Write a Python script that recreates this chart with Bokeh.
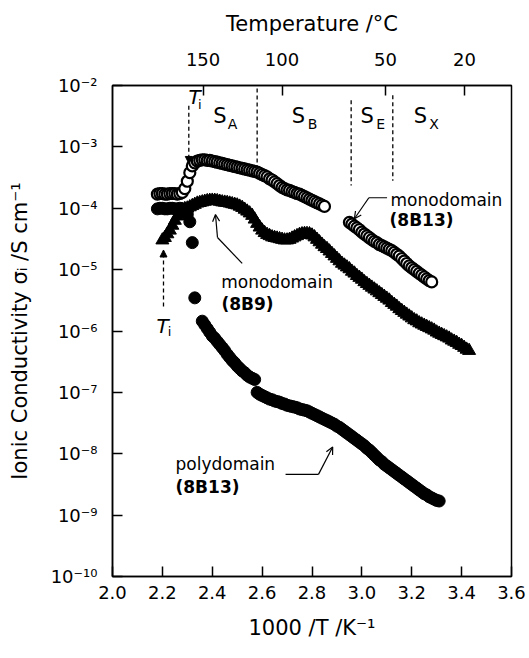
import numpy as np
from bokeh.plotting import figure
from bokeh.models import (LinearAxis, FixedTicker, CustomJSTickFormatter, Range1d,
                          Arrow, NormalHead, OpenHead)
from bokeh.core.properties import value
from bokeh.embed import file_html
from bokeh.resources import INLINE

FONT = "DejaVu Sans"

# ---------------- data (log10 of sigma / S cm^-1) ----------------
# monodomain 8B13 (open circles), part 1
mono13a_x = [2.18, 2.19, 2.20, 2.21, 2.22, 2.23, 2.24, 2.25, 2.26, 2.27, 2.28, 2.29, 2.30, 2.31, 2.32,
             2.33, 2.34, 2.35, 2.36, 2.37, 2.38, 2.39, 2.40, 2.41, 2.42, 2.43, 2.44, 2.45, 2.46, 2.47,
             2.48, 2.49, 2.50, 2.51, 2.52, 2.53, 2.54, 2.55, 2.56, 2.57, 2.58, 2.59, 2.60, 2.61, 2.62,
             2.63, 2.64, 2.65, 2.66, 2.67, 2.68, 2.69, 2.70, 2.71, 2.72, 2.73, 2.74, 2.75, 2.76, 2.77,
             2.78, 2.79, 2.80, 2.81, 2.82, 2.83, 2.84, 2.85]
mono13a_log = [-3.77, -3.76, -3.76, -3.77, -3.77, -3.76, -3.76, -3.76, -3.77, -3.76, -3.74, -3.68, -3.56,
               -3.42, -3.31, -3.26, -3.23, -3.22, -3.21, -3.21, -3.22, -3.22, -3.23, -3.24, -3.25, -3.26,
               -3.27, -3.28, -3.29, -3.30, -3.31, -3.32, -3.33, -3.34, -3.35, -3.36, -3.37, -3.38, -3.39,
               -3.40, -3.41, -3.43, -3.45, -3.47, -3.49, -3.52, -3.54, -3.57, -3.60, -3.63, -3.66, -3.68,
               -3.70, -3.71, -3.73, -3.74, -3.76, -3.77, -3.79, -3.81, -3.83, -3.85, -3.87, -3.89, -3.91,
               -3.93, -3.95, -3.97]
# monodomain 8B13 (open circles), part 2
mono13b_x = [2.95, 2.96, 2.97, 2.98, 2.99, 3.00, 3.01, 3.02, 3.03, 3.04, 3.05, 3.06, 3.07, 3.08, 3.09,
             3.10, 3.11, 3.12, 3.13, 3.14, 3.15, 3.16, 3.17, 3.18, 3.19, 3.20, 3.21, 3.22, 3.23, 3.24,
             3.25, 3.26, 3.27, 3.28]
mono13b_log = [-4.23, -4.26, -4.29, -4.32, -4.35, -4.39, -4.42, -4.45, -4.48, -4.51, -4.54, -4.56, -4.59,
               -4.61, -4.63, -4.65, -4.67, -4.69, -4.72, -4.75, -4.78, -4.82, -4.86, -4.90, -4.94, -4.97,
               -5.00, -5.03, -5.06, -5.09, -5.12, -5.15, -5.18, -5.20]

# monodomain 8B9 (triangles), x = 2.20 ... 3.43 in steps of 0.01
mono9_x = [round(2.20 + 0.01 * i, 2) for i in range(124)]
mono9_log = [-4.52, -4.48, -4.42, -4.36, -4.28, -4.20, -4.13, -4.07, -4.03, -4.01,
             -4.00, -3.98, -3.96, -3.94, -3.92, -3.91, -3.90, -3.89, -3.88, -3.875,
             -3.873, -3.875, -3.88, -3.89, -3.90, -3.905, -3.91, -3.92, -3.93, -3.94,
             -3.95, -3.97, -3.99, -4.02, -4.05, -4.08, -4.12, -4.18, -4.25, -4.31,
             -4.36, -4.40, -4.43, -4.45, -4.47, -4.48, -4.49, -4.50, -4.51, -4.52,
             -4.52, -4.51, -4.49, -4.47, -4.45, -4.43, -4.42, -4.415, -4.415, -4.42,
             -4.44, -4.47, -4.51, -4.55, -4.59, -4.63, -4.66, -4.70, -4.74, -4.78,
             -4.82, -4.86, -4.90, -4.93, -4.96, -4.99, -5.03, -5.06, -5.10, -5.13,
             -5.16, -5.20, -5.23, -5.26, -5.29, -5.32, -5.35, -5.38, -5.41, -5.44,
             -5.47, -5.50, -5.54, -5.57, -5.60, -5.64, -5.67, -5.70, -5.73, -5.76,
             -5.79, -5.82, -5.84, -5.87, -5.89, -5.91, -5.93, -5.95, -5.97, -5.99,
             -6.02, -6.04, -6.06, -6.08, -6.10, -6.12, -6.15, -6.17, -6.19, -6.22,
             -6.24, -6.27, -6.30, -6.32]

# polydomain 8B13 (filled circles)
poly13_x = [2.18, 2.19, 2.20, 2.21, 2.22, 2.23, 2.24, 2.25, 2.26, 2.27, 2.28, 2.29, 2.30, 2.31, 2.32,
            2.33, 2.36, 2.37, 2.38, 2.39, 2.40, 2.41, 2.42, 2.43, 2.44, 2.45, 2.46, 2.47, 2.48, 2.49,
            2.50, 2.51, 2.52, 2.53, 2.54, 2.55, 2.56, 2.57,
            2.58, 2.59, 2.60, 2.61, 2.62, 2.63, 2.64, 2.65, 2.66, 2.67, 2.68, 2.69, 2.70, 2.71, 2.72,
            2.73, 2.74, 2.75, 2.76, 2.77, 2.78, 2.79, 2.80, 2.81, 2.82, 2.83, 2.84, 2.85, 2.86, 2.87,
            2.88, 2.89, 2.90, 2.91, 2.92, 2.93, 2.94, 2.95, 2.96, 2.97, 2.98, 2.99, 3.00, 3.01, 3.02,
            3.03, 3.04, 3.05, 3.06, 3.07, 3.08, 3.09, 3.10, 3.11, 3.12, 3.13, 3.14, 3.15, 3.16, 3.17,
            3.18, 3.19, 3.20, 3.21, 3.22, 3.23, 3.24, 3.25, 3.26, 3.27, 3.28, 3.29, 3.30, 3.31]
poly13_log = [-4.01, -4.00, -4.00, -4.01, -4.01, -4.00, -4.00, -4.01, -4.01, -4.00, -4.01, -4.03, -4.10,
              -4.22, -4.56, -5.46, -5.84, -5.90, -5.96, -6.02, -6.08, -6.12, -6.17, -6.22, -6.27, -6.32,
              -6.38, -6.43, -6.48, -6.52, -6.57, -6.61, -6.65, -6.68, -6.72, -6.75, -6.77, -6.79,
              -7.00, -7.03, -7.05, -7.07, -7.09, -7.11, -7.12, -7.14, -7.15, -7.16, -7.18, -7.19, -7.21,
              -7.22, -7.23, -7.24, -7.25, -7.27, -7.28, -7.29, -7.30, -7.32, -7.34, -7.36, -7.38, -7.40,
              -7.42, -7.44, -7.46, -7.48, -7.50, -7.52, -7.55, -7.57, -7.60, -7.63, -7.66, -7.69, -7.72,
              -7.75, -7.78, -7.81, -7.84, -7.87, -7.91, -7.94, -7.98, -8.02, -8.06, -8.10, -8.13, -8.17,
              -8.20, -8.23, -8.26, -8.29, -8.32, -8.35, -8.38, -8.41, -8.44, -8.47, -8.50, -8.53, -8.56,
              -8.59, -8.62, -8.65, -8.67, -8.70, -8.72, -8.74, -8.76, -8.77]

x_ticks = [2.0, 2.2, 2.4, 2.6, 2.8, 3.0, 3.2, 3.4, 3.6]
y_ticks_exp = [-10, -9, -8, -7, -6, -5, -4, -3, -2]
temp_ticks_C = [150, 100, 50, 20]

# phase-boundary / transition positions (1000/T)
Ti_8B13 = 2.306
Ti_8B9 = 2.2045
b_SA_SB = 2.580
b_SB_SE = 2.957
b_SE_SX = 3.124

def sig(logs):
    return [10.0 ** v for v in logs]

# ---------------- figure ----------------
p = figure(width=529, height=658, x_range=Range1d(2.0, 3.6), y_range=Range1d(1e-10, 1e-2),
           y_axis_type="log", output_backend="svg", toolbar_location=None,
           min_border_left=112, min_border_right=18, min_border_top=85, min_border_bottom=82)
p.background_fill_color = "white"
p.border_fill_color = "white"
p.xgrid.visible = False
p.ygrid.visible = False
p.outline_line_color = "black"
p.outline_line_width = 1.5
p.outline_line_alpha = 1.0

def style_axis(ax, label_size="18px"):
    ax.axis_line_color = "black"
    ax.axis_line_width = 1.5
    ax.major_tick_in = 10
    ax.major_tick_out = 0
    ax.major_tick_line_width = 1.5
    ax.major_tick_line_color = "black"
    ax.minor_tick_line_color = None
    ax.major_label_text_font = FONT
    ax.major_label_text_font_size = label_size
    ax.major_label_text_color = "black"
    ax.axis_label_text_font = FONT
    ax.axis_label_text_font_size = "21px"
    ax.axis_label_text_font_style = "normal"
    ax.axis_label_text_color = "black"

xa = p.xaxis[0]
style_axis(xa)
xa.ticker = FixedTicker(ticks=x_ticks)
xa.formatter = CustomJSTickFormatter(code="return tick.toFixed(1);")
xa.axis_label = "1000 /T /K⁻¹"
xa.major_label_standoff = 9
xa.axis_label_standoff = 14

ya = p.yaxis[0]
style_axis(ya)
ya.ticker = FixedTicker(ticks=[10.0 ** e for e in y_ticks_exp])
ya.formatter = CustomJSTickFormatter(code="""
const sup = {'-':'\u207b','0':'\u2070','1':'\u00b9','2':'\u00b2','3':'\u00b3','4':'\u2074',
             '5':'\u2075','6':'\u2076','7':'\u2077','8':'\u2078','9':'\u2079'};
const e = Math.round(Math.log10(tick));
return '10' + String(e).split('').map(c => sup[c]).join('');
""")
ya.axis_label = "Ionic Conductivity σᵢ /S cm⁻¹"
ya.major_label_standoff = 15
ya.axis_label_standoff = 16

top = LinearAxis(ticker=FixedTicker(ticks=[1000.0 / (t + 273.15) for t in temp_ticks_C]),
                 formatter=CustomJSTickFormatter(code="return String(Math.round(1000/tick - 273.15));"))
style_axis(top)
top.axis_label = "Temperature /°C"
top.major_label_standoff = 20
top.axis_label_standoff = 14
p.add_layout(top, "above")

# ---------------- data marks ----------------
p.scatter(mono13a_x, sig(mono13a_log), marker="circle", size=11, fill_color="white",
          line_color="black", line_width=2.2)
p.scatter(mono13b_x, sig(mono13b_log), marker="circle", size=11, fill_color="white",
          line_color="black", line_width=2.2)
p.scatter(mono9_x, sig(mono9_log), marker="triangle", size=13, fill_color="black",
          line_color="black", line_width=1)
p.scatter(poly13_x, sig(poly13_log), marker="circle", size=12, fill_color="black",
          line_color="black", line_width=1)

# ---------------- phase boundaries (dashed) ----------------
for xb, y0, y1 in [(b_SA_SB, -2.05, -3.37), (b_SB_SE, -2.24, -3.63), (b_SE_SX, -2.16, -3.55)]:
    p.segment(x0=[xb], y0=[10 ** y0], x1=[xb], y1=[10 ** y1], line_color="black",
              line_width=1.3, line_dash="4 3")

for xb, y0, y1 in [(Ti_8B13, -2.33, -3.27), (Ti_8B9, -5.6, -4.68)]:
    p.add_layout(Arrow(end=NormalHead(size=7, fill_color="black", line_color="black", line_width=1),
                       x_start=xb, y_start=10 ** y0, x_end=xb, y_end=10 ** y1,
                       line_color="black", line_width=1.3, line_dash="4 3"))

def txt(x, y_log, s, size="17px", style="normal", align="left"):
    p.text(x=[x], y=[10 ** y_log], text=[s], text_font=value(FONT), text_font_size=value(size),
           text_font_style=style, text_align=align, text_baseline="middle", text_color="black")

# phase labels
for xs, xsub, sub in [(2.431, 2.481, "A"), (2.746, 2.802, "B"), (3.021, 3.075, "E"), (3.235, 3.289, "X")]:
    txt(xs, -2.505, "S", size="21px", align="center")
    txt(xsub, -2.63, sub, size="14px", align="center")

# T_i labels
txt(2.329, -2.19, "T", size="20px", style="italic", align="center")
txt(2.350, -2.31, "i", size="13px", align="center")
txt(2.2005, -5.92, "T", size="20px", style="italic", align="center")
txt(2.2285, -6.01, "i", size="13px", align="center")

# sample annotations
txt(3.115, -3.873, "monodomain")
txt(3.111, -4.199, "(8B13)", style="bold")
txt(2.436, -5.208, "monodomain")
txt(2.437, -5.567, "(8B9)", style="bold")
txt(2.2526, -8.173, "polydomain")
txt(2.2526, -8.547, "(8B13)", style="bold")

# leader lines with arrows
p.line([3.101, 3.028], [10 ** -3.829, 10 ** -3.829], line_color="black", line_width=1.2)
p.add_layout(Arrow(end=OpenHead(size=7, line_width=1.2), x_start=3.028, y_start=10 ** -3.829,
                   x_end=2.970, y_end=10 ** -4.171, line_width=1.2))
p.line([2.520, 2.421], [10 ** -4.899, 10 ** -4.476], line_color="black", line_width=1.2)
p.add_layout(Arrow(end=OpenHead(size=7, line_width=1.2), x_start=2.421, y_start=10 ** -4.476,
                   x_end=2.413, y_end=10 ** -4.101, line_width=1.2))
p.line([2.694, 2.826], [10 ** -8.336, 10 ** -8.336], line_color="black", line_width=1.2)
p.add_layout(Arrow(end=OpenHead(size=7, line_width=1.2), x_start=2.826, y_start=10 ** -8.336,
                   x_end=2.883, y_end=10 ** -7.891, line_width=1.2))

open("out.html", "w").write(file_html(p, INLINE))
